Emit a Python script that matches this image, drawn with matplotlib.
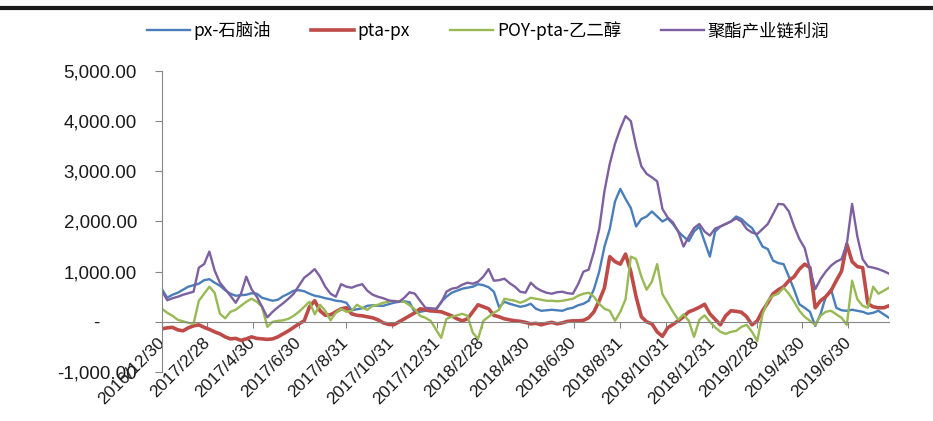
import matplotlib
matplotlib.use("Agg")
import matplotlib.pyplot as plt
import matplotlib.ticker as mticker
from matplotlib.lines import Line2D
import pandas as pd

# weekly observations, 2016/12/30 .. 2019/8/23
dates = pd.date_range("2016-12-30", periods=139, freq="7D")

px_naphtha = [650, 480, 540, 580, 640, 700, 730, 760, 830, 850,
              780, 720, 630, 560, 520, 530, 540, 570, 560, 480,
              450, 420, 440, 510, 560, 620, 630, 610, 560, 520,
              500, 470, 450, 420, 410, 380, 230, 250, 270, 320,
              330, 320, 320, 350, 380, 400, 410, 390, 190, 200,
              220, 210, 230, 400, 500, 580, 620, 660, 680, 700,
              750, 730, 690, 600, 290, 400, 360, 330, 300, 320,
              360, 260, 220, 230, 240, 230, 220, 260, 280, 330,
              360, 420, 650, 1000, 1500, 1850, 2400, 2650, 2450, 2270,
              1900, 2050, 2100, 2200, 2100, 2000, 2060, 1950, 1800, 1700,
              1610, 1800, 1900, 1600, 1300, 1800, 1900, 1950, 2000, 2100,
              2050, 1950, 1870, 1700, 1500, 1450, 1220, 1170, 1150, 900,
              640, 350, 280, 200, -80, 150, 500, 650, 280, 230,
              220, 240, 220, 200, 160, 180, 220, 150, 80]

pta_px = [-140, -120, -110, -160, -180, -120, -80, -60, -110, -150,
          -200, -240, -300, -340, -330, -370, -340, -300, -330, -340,
          -350, -340, -300, -240, -180, -110, -40, 20, 300, 420,
          220, 130, 140, 200, 260, 280, 160, 130, 120, 100,
          80, 40, -20, -50, -60, 0, 60, 120, 180, 260,
          240, 220, 210, 200, 160, 120, 60, 20, 60, 200,
          340, 300, 260, 130, 100, 60, 40, 20, 10, -10,
          -40, -30, -60, -30, -10, -40, -20, 10, 20, 20,
          30, 80, 200, 420, 680, 1300, 1200, 1150, 1350, 1000,
          500, 100, 0, -40, -200, -290, -120, -50, 20, 100,
          200, 240, 290, 350, 160, 50, -60, 120, 220, 210,
          190, 100, -60, 20, 220, 380, 560, 640, 700, 820,
          900, 1050, 1150, 1080, 280, 420, 500, 620, 820, 1010,
          1550, 1200, 1100, 1080, 360, 300, 280, 280, 320]

poy_margin = [260, 180, 120, 40, 10, -20, -40, 420, 560, 700,
              580, 160, 70, 200, 240, 320, 400, 460, 400, 300,
              -100, 0, 20, 30, 60, 120, 200, 300, 400, 150,
              340, 220, 30, 180, 260, 200, 220, 340, 280, 240,
              320, 340, 380, 400, 420, 410, 400, 330, 250, 120,
              80, 20, -150, -320, 60, 100, 130, 160, 120, -220,
              -340, 20, 100, 180, 240, 460, 440, 420, 380, 420,
              480, 460, 440, 420, 420, 410, 420, 440, 460, 520,
              560, 580, 500, 360, 260, 220, 20, 200, 450, 1300,
              1250, 900, 640, 800, 1150, 550, 380, 200, 40, 150,
              20, -300, 40, 130, 0, -110, -200, -240, -200, -180,
              -100, -60, -200, -380, 150, 420, 520, 560, 680, 560,
              400, 220, 100, 20, -60, 120, 200, 220, 150, 80,
              -60, 820, 450, 320, 280, 700, 560, 620, 680]

chain_profit = [620, 430, 470, 500, 540, 570, 600, 1080, 1150, 1400,
                1020, 780, 650, 520, 380, 560, 900, 650, 500, 300,
                90, 200, 290, 370, 460, 560, 720, 880, 960, 1050,
                900, 700, 560, 500, 750, 700, 680, 720, 750, 620,
                540, 500, 470, 430, 410, 400, 480, 590, 560, 420,
                280, 270, 260, 380, 600, 660, 680, 740, 780, 760,
                800, 900, 1050, 820, 830, 860, 770, 700, 600, 580,
                780, 680, 620, 580, 560, 590, 600, 570, 560, 750,
                1000, 1040, 1400, 1850, 2610, 3150, 3550, 3850, 4100, 4000,
                3500, 3100, 2950, 2880, 2800, 2250, 2080, 1980, 1800, 1500,
                1700, 1870, 1950, 1800, 1720, 1860, 1900, 1950, 2000, 2060,
                2000, 1850, 1780, 1750, 1850, 1950, 2150, 2350, 2340, 2200,
                1900, 1650, 1470, 1050, 650, 850, 1000, 1120, 1200, 1250,
                1550, 2350, 1700, 1250, 1100, 1080, 1050, 1010, 960]

series_names = ["px-石脑油", "pta-px", "POY-pta-乙二醇", "聚酯产业链利润"]

tick_dates = ["2016/12/30", "2017/2/28", "2017/4/30", "2017/6/30",
              "2017/8/31", "2017/10/31", "2017/12/31", "2018/2/28",
              "2018/4/30", "2018/6/30", "2018/8/31", "2018/10/31",
              "2018/12/31", "2019/2/28", "2019/4/30", "2019/6/30"]

plt.rcParams["font.family"] = ["Liberation Sans", "DejaVu Sans"]

fig = plt.figure(figsize=(9.33, 4.21), dpi=100)
ax = fig.add_axes([0.1736, 0.1164, 0.7792, 0.715])

ax.plot(dates, px_naphtha, color="#4a7ebb", lw=1.7, label=series_names[0])
ax.plot(dates, pta_px, color="#be4b48", lw=2.6, label=series_names[1])
ax.plot(dates, poy_margin, color="#98b954", lw=1.7, label=series_names[2])
ax.plot(dates, chain_profit, color="#7d60a0", lw=1.7, label=series_names[3])

ax.set_ylim(-1000, 5000)
ax.set_xlim(dates[0], dates[-1])
ax.yaxis.set_major_locator(mticker.MultipleLocator(1000))
ax.yaxis.set_major_formatter(mticker.FuncFormatter(
    lambda v, p: "-       " if abs(v) < 1e-9 else f"{v:,.2f}"))

ax.set_xticks(pd.to_datetime(tick_dates))
ax.set_xticklabels(tick_dates)

for s in ["top", "right"]:
    ax.spines[s].set_visible(False)
ax.spines["bottom"].set_position(("data", 0))
ax.spines["left"].set_color("#868686")
ax.spines["bottom"].set_color("#868686")

ax.tick_params(axis="y", length=5, color="#868686", pad=13, labelsize=13.5,
               labelcolor="#1a1a1a")
ax.tick_params(axis="x", length=4, color="#868686", pad=9, labelsize=12.5,
               labelcolor="#1a1a1a")
for lab in ax.get_xticklabels():
    lab.set_rotation(45)
    lab.set_ha("right")
    lab.set_va("center")
    lab.set_rotation_mode("anchor")

leg = fig.legend(loc="center", bbox_to_anchor=(0.523, 0.927), ncol=4,
                 frameon=False, handlelength=2.5, handletextpad=0.2,
                 columnspacing=2.3,
                 prop={"family": ["Noto Sans CJK SC", "DejaVu Sans"], "size": 12.5})

# thin dark rule across the top
fig.add_artist(Line2D([0, 1], [0.981, 0.981], transform=fig.transFigure,
                      color="#1a1a1a", lw=3))

fig.savefig("out.png", dpi=100)
